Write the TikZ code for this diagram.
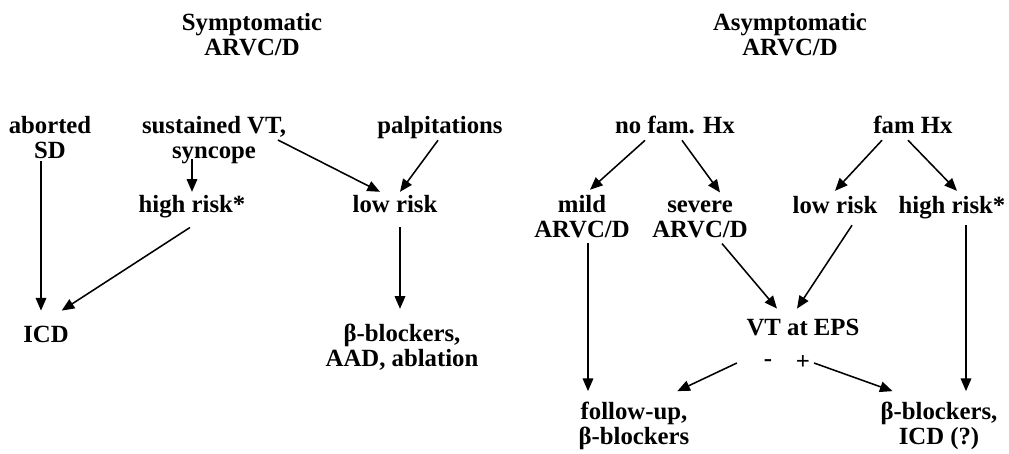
\documentclass[tikz,border=0pt]{standalone}
\usepackage{fontspec}
\setmainfont{Liberation Serif}
\usepackage{tikz}
\usetikzlibrary{arrows.meta, calc}

\begin{document}
\begin{tikzpicture}[
        x=0.025cm, y=-0.025cm,
        label/.style={
            inner sep=0pt,
            outer sep=0pt,
            align=center,
            font=\bfseries\fontsize{17.6}{17.8}\selectfont
        },
        arrow/.style={
            ->,
            >={Triangle[length=9pt,width=7.5pt]},
            line width=1.1pt
        }
    ]
        \useasboundingbox (0,0) rectangle (1009,454);

        % Headings
        \node[label] (symp) at (252, 35) {Symptomatic\\ARVC/D};
        \node[label] (asymp) at (790, 35) {Asymptomatic\\ARVC/D};

        % Symptomatic branch
        \node[label] (abort) at (50, 138) {aborted\\SD};
        \node[label] (susvt) at (214, 140) {sustained VT,\\syncope};
        \node[label, anchor=base] (palp) at (440, 133) {palpitations};
        \node[label, anchor=base] (hrL) at (192, 212) {high risk*};
        \node[label, anchor=base] (lrL) at (395, 212) {low risk};
        \node[label, anchor=base] (icd) at (46, 342) {ICD};
        \node[label] (bbL) at (402, 347) {β-blockers,\\AAD, ablation};

        % Asymptomatic branch
        \node[label, anchor=base] (nofam) at (675, 133) {no fam. Hx};
        \node[label, anchor=base] (fam) at (913, 133) {fam Hx};
        \node[label] (mild) at (582, 217) {mild\\ARVC/D};
        \node[label] (severe) at (700, 219) {severe\\ARVC/D};
        \node[label, anchor=base] (lrR) at (835, 213) {low risk};
        \node[label, anchor=base] (hrR) at (952, 213) {high risk*};
        \node[label, anchor=base] (vteps) at (803, 335) {VT at EPS};
        \node[label] (minus) at (768, 363) {-};
        \node[label] (plus) at (803, 363) {+};
        \node[label] (fup) at (634, 426) {follow-up,\\β-blockers};
        \node[label] (bbR) at (939, 426) {β-blockers,\\ICD (?)};

        % Arrows, symptomatic
        \draw[arrow] ($(abort.south)+(-9,2)$) -- ($(icd.north)+(-5,-15)$);
        \draw[arrow] ($(susvt.south)+(-22,-5)$) -- ($(hrL.north)+(0,-3)$);
        \draw[arrow] ($(hrL.south)+(-2,10)$) -- ($(icd.north east)+(-7,-15)$);
        \draw[arrow] ($(susvt.east)+(-8,0)$) -- ($(lrL.north)+(-15,-3)$);
        \draw[arrow] ($(palp.south)+(-2,2)$) -- ($(lrL.north)+(5,-3)$);
        \draw[arrow] ($(lrL.south)+(5,15)$) -- ($(bbL.north)+(-2,-15)$);

        % Arrows, asymptomatic
        \draw[arrow] ($(nofam.south)+(-30,7)$) -- ($(mild.north)+(8,-6)$);
        \draw[arrow] ($(nofam.south)+(7,7)$) -- ($(severe.north)+(20,-8)$);
        \draw[arrow] ($(fam.south)+(-31,7)$) -- ($(lrR.north)+(0,-5)$);
        \draw[arrow] ($(fam.south)+(-5,7)$) -- ($(hrR.north)+(5,-5)$);
        \draw[arrow] ($(mild.south)+(6,5)$) -- ($(fup.north)+(-46,-11)$);
        \draw[arrow] ($(severe.south)+(22,6)$) -- ($(vteps.north)+(-26,-10)$);
        \draw[arrow] ($(lrR.south)+(17,12)$) -- ($(vteps.north)+(-6,-10)$);
        \draw[arrow] ($(hrR.south)+(14,7)$) -- ($(bbR.north)+(27,-11)$);
        \draw[arrow] ($(minus.west)+(-27,0)$) -- ($(fup.north east)+(-12,-11)$);
        \draw[arrow] ($(plus.east)+(4,0)$) -- ($(bbR.north west)+(12,-11)$);
    \end{tikzpicture}
\end{document}
